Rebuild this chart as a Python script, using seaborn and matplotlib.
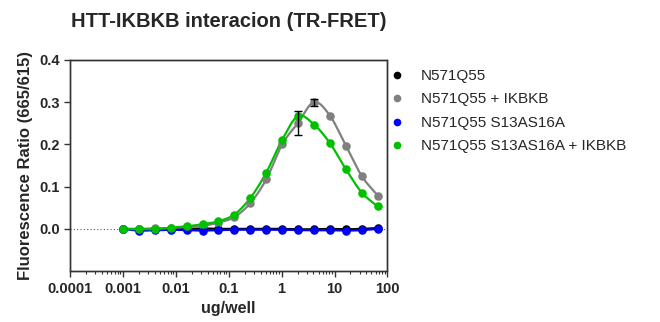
import numpy as np
import pandas as pd
import seaborn as sns
import matplotlib.pyplot as plt
from matplotlib.lines import Line2D
from matplotlib.patches import Rectangle

# datos (dilucion 1:2 desde 0.001 ug/well)
dose = [0.001, 0.002, 0.004, 0.008, 0.016, 0.032, 0.064, 0.128, 0.256,
        0.512, 1.024, 2.048, 4.096, 8.192, 16.384, 32.768, 65.536]

n571q55 = [0.000, -0.001, 0.000, -0.001, 0.000, 0.001, 0.000, 0.000, 0.000,
           0.000, 0.000, -0.001, -0.001, 0.000, -0.001, 0.000, 0.002]
n571q55_ikbkb = [0.000, 0.000, 0.001, 0.002, 0.004, 0.007, 0.015, 0.028, 0.061,
                 0.117, 0.200, 0.251, 0.300, 0.268, 0.197, 0.125, 0.079]
n571q55_s13 = [0.000, -0.004, -0.003, -0.002, -0.003, -0.004, -0.003, -0.002, -0.002,
               -0.002, -0.002, -0.003, -0.003, -0.003, -0.004, -0.003, 0.000]
n571q55_s13_ikbkb = [-0.001, 0.000, -0.001, 0.003, 0.006, 0.011, 0.018, 0.034, 0.073,
                     0.133, 0.211, 0.267, 0.247, 0.203, 0.141, 0.086, 0.053]

# error (SD) solo visible en dos puntos
err_ikbkb = [0, 0, 0, 0, 0, 0, 0, 0, 0, 0, 0, 0.029, 0.008, 0, 0, 0, 0]

labels = ["N571Q55", "N571Q55 + IKBKB", "N571Q55 S13AS16A", "N571Q55 S13AS16A + IKBKB"]
colors = ["#000000", "#808080", "#0000ff", "#00c000"]
series = [n571q55, n571q55_ikbkb, n571q55_s13, n571q55_s13_ikbkb]


def smooth(xs, ys, n=400):
    # curva suave (hermite cubica) en escala log
    t = np.log10(xs)
    y = np.asarray(ys, dtype=float)
    m = np.gradient(y, t)
    tt = np.linspace(t[0], t[-1], n)
    idx = np.clip(np.searchsorted(t, tt) - 1, 0, len(t) - 2)
    h = t[idx + 1] - t[idx]
    s = (tt - t[idx]) / h
    h00 = 2 * s**3 - 3 * s**2 + 1
    h10 = s**3 - 2 * s**2 + s
    h01 = -2 * s**3 + 3 * s**2
    h11 = s**3 - s**2
    yy = h00 * y[idx] + h10 * h * m[idx] + h01 * y[idx + 1] + h11 * h * m[idx + 1]
    return 10**tt, yy


sns.set_style("ticks")
plt.rcParams['font.family'] = ['Liberation Sans', 'DejaVu Sans']

fig = plt.figure(figsize=(6.6, 3.22), dpi=100)
ax = fig.add_axes([0.106, 0.158, 0.481, 0.656])

# linea punteada en cero
ax.axhline(0, color="#555555", lw=0.8, ls=(0, (1, 2)), zorder=1)

for lab, col, vals in zip(labels, colors, series):
    cx, cy = smooth(dose, vals)
    sns.lineplot(x=cx, y=cy, color=col, lw=1.6, ax=ax, zorder=2)
    df = pd.DataFrame({"dose": dose, "ratio": vals})
    sns.scatterplot(data=df, x="dose", y="ratio", color=col, s=38,
                    edgecolor=col, linewidth=0, ax=ax, zorder=3)
    if lab == "N571Q55 + IKBKB":
        sel = [i for i, e in enumerate(err_ikbkb) if e > 0]
        ax.errorbar([dose[i] for i in sel], [vals[i] for i in sel],
                    yerr=[err_ikbkb[i] for i in sel], fmt="none", ecolor="black",
                    elinewidth=1, capsize=3, capthick=1, zorder=4)

ax.set_xscale("log")
ax.set_xlim(0.0001, 100)
ax.set_ylim(-0.1, 0.4)
ax.set_yticks([0.0, 0.1, 0.2, 0.3, 0.4])
ax.set_yticklabels(["0.0", "0.1", "0.2", "0.3", "0.4"])
ax.set_xticks([0.0001, 0.001, 0.01, 0.1, 1, 10, 100])
ax.set_xticklabels(["0.0001", "0.001", "0.01", "0.1", "1", "10", "100"])

for lbl in ax.get_xticklabels() + ax.get_yticklabels():
    lbl.set_fontweight("bold")
    lbl.set_fontsize(10.5)
ax.tick_params(axis="both", which="major", length=4, width=1, color="#333333")
ax.tick_params(axis="x", which="minor", length=2.5, width=0.8, color="#333333")

ax.set_xlabel("ug/well", fontsize=11.5, fontweight="bold")
ax.set_ylabel("Fluorescence Ratio (665/615)", fontsize=12, fontweight="bold")
ax.set_title("HTT-IKBKB interacion (TR-FRET)", fontsize=14.5, fontweight="bold", pad=24)

handles = [Line2D([], [], marker="o", ls="none", color=c, markersize=4.5) for c in colors]
ax.legend(handles, labels, loc="upper left", bbox_to_anchor=(0.958, 1.022), frameon=False,
          fontsize=11, handletextpad=0.95, labelspacing=0.62, handlelength=1.2)

# marco completo alrededor del area de datos
for sp in ax.spines.values():
    sp.set_visible(True)
    sp.set_color("#333333")
    sp.set_linewidth(1)
    sp.set_zorder(5)
ax.add_patch(Rectangle((0, 0), 1, 1, transform=ax.transAxes, fill=False,
                       edgecolor="#333333", lw=1, clip_on=False, zorder=5))

fig.savefig("out.png", dpi=100)
